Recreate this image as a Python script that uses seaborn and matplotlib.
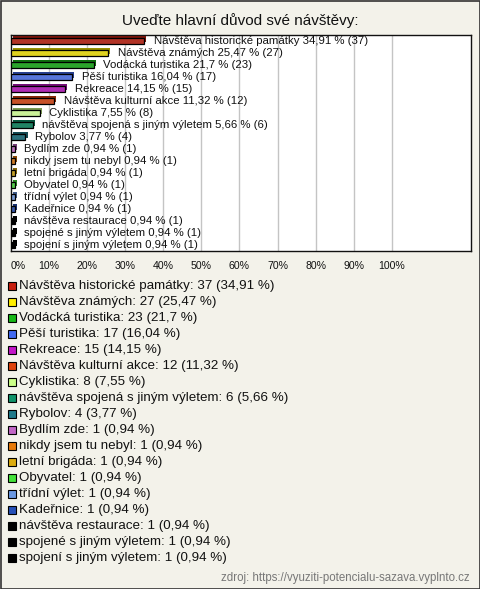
import matplotlib
matplotlib.use("Agg")
import matplotlib.pyplot as plt
import matplotlib.patheffects as pe
from matplotlib.patches import Rectangle
import seaborn as sns
import pandas as pd
import numpy as np

categories = [
    "Návštěva historické památky", "Návštěva známých", "Vodácká turistika",
    "Pěší turistika", "Rekreace", "Návštěva kulturní akce", "Cyklistika",
    "návštěva spojená s jiným výletem", "Rybolov", "Bydlím zde",
    "nikdy jsem tu nebyl", "letní brigáda", "Obyvatel", "třídní výlet",
    "Kadeřnice", "návštěva restaurace", "spojené s jiným výletem",
    "spojení s jiným výletem",
]
counts = [37, 27, 23, 17, 15, 12, 8, 6, 4, 1, 1, 1, 1, 1, 1, 1, 1, 1]
percents = [34.91, 25.47, 21.7, 16.04, 14.15, 11.32, 7.55, 5.66, 3.77,
            0.94, 0.94, 0.94, 0.94, 0.94, 0.94, 0.94, 0.94, 0.94]
percent_labels = ["34,91", "25,47", "21,7", "16,04", "14,15", "11,32", "7,55",
                  "5,66", "3,77", "0,94", "0,94", "0,94", "0,94", "0,94",
                  "0,94", "0,94", "0,94", "0,94"]
colors = ["#c8200f", "#ffee00", "#17b817", "#4169f0", "#c316c9", "#e0440e",
          "#ccff88", "#10936a", "#1f7a8a", "#c266c6", "#e87a0a", "#dcac10",
          "#44e23a", "#6a98e2", "#2650b8", "#000000", "#000000", "#000000"]
xtick_values = [0, 10, 20, 30, 40, 50, 60, 70, 80, 90, 100]
xtick_labels = [f"{v}%" for v in xtick_values]

title = "Uveďte hlavní důvod své návštěvy:"
source = "zdroj: https://vyuziti-potencialu-sazava.vyplnto.cz"

sns.set_theme(style="white")
plt.rcParams["font.family"] = ["Liberation Sans", "DejaVu Sans"]

W, H = 480, 589
bg = "#f3f2ea"
fig = plt.figure(figsize=(W / 100, H / 100), dpi=100, facecolor=bg)

def fx(px):
    return px / W

def fy(py):
    return 1 - py / H

ax = fig.add_axes([fx(11), fy(251), fx(471) - fx(11), fy(35) - fy(251)])
ax.set_facecolor("white")

df = pd.DataFrame({"cat": categories, "pct": percents})
sns.barplot(data=df, x="pct", y="cat", hue="cat", palette=colors,
            orient="h", legend=False, ax=ax, width=0.5,
            edgecolor="black", linewidth=0.9, zorder=3)

def darker(c, f=0.6):
    r, g, b = matplotlib.colors.to_rgb(c)
    return (r * f, g * f, b * f)

for patch, c in zip(ax.patches, colors):
    patch.set_path_effects([
        pe.SimplePatchShadow(offset=(1.6, 1.6), shadow_rgbFace=darker(c), alpha=1.0),
        pe.Normal(),
    ])

for i, (cat, p, pl, n) in enumerate(zip(categories, percents, percent_labels, counts)):
    ax.annotate(f"{cat} {pl} % ({n})", xy=(p, i), xytext=(7, 0),
                textcoords="offset points", va="center", ha="left",
                fontsize=8.2, color="#111111", zorder=5)

ax.set_xlim(0, 120.8)
ax.set_ylim(len(categories) - 0.5, -0.5)
ax.set_xticks(xtick_values)
ax.set_xticklabels(xtick_labels, fontsize=7.6, color="#111111")
ax.get_xticklabels()[0].set_horizontalalignment("left")
ax.tick_params(axis="x", length=0, pad=7)
ax.set_yticks([])
ax.set_xlabel("")
ax.set_ylabel("")
for v in xtick_values[1:]:
    ax.axvline(v, color="#c4c4c4", lw=1, zorder=1)
for s in ax.spines.values():
    s.set_visible(True)
    s.set_color("#111111")
    s.set_linewidth(1)

fig.text(0.5, fy(21), title, ha="center", va="center", fontsize=11, color="#111111")

# legend
for i, (cat, n, pl, c) in enumerate(zip(categories, counts, percent_labels, colors)):
    yc = 286 + i * 16.0
    fig.patches.append(Rectangle((fx(8), fy(yc + 3.5)), fx(8), fy(yc - 4.5) - fy(yc + 3.5),
                                 transform=fig.transFigure, facecolor=c,
                                 edgecolor="black", linewidth=0.8))
    fig.text(fx(19), fy(yc), f"{cat}: {n} ({pl} %)", ha="left", va="center",
             fontsize=9.6, color="#111111")

fig.text(fx(470), fy(578), source, ha="right", va="center", fontsize=8.3, color="#777777")

fig.patches.append(Rectangle((0.5 / W, 0.5 / H), 1 - 1 / W, 1 - 1 / H,
                             transform=fig.transFigure, fill=False,
                             edgecolor="#333333", linewidth=1.2))

fig.savefig("out.png", dpi=100, facecolor=bg)
